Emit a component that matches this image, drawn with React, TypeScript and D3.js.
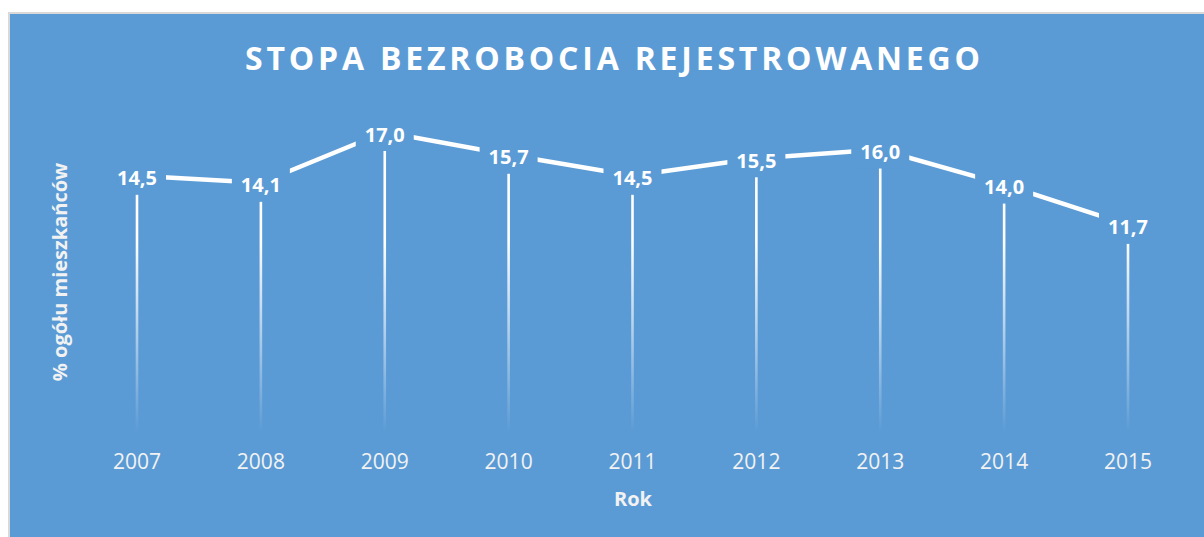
import React from "react";
import * as d3 from "d3";

const years = ["2007", "2008", "2009", "2010", "2011", "2012", "2013", "2014", "2015"];
const values = [14.5, 14.1, 17.0, 15.7, 14.5, 15.5, 16.0, 14.0, 11.7];
const title = "STOPA BEZROBOCIA REJESTROWANEGO";
const xTitle = "Rok";
const yTitle = "% ogółu mieszkańców";

const W = 1204;
const H = 537;
const BLUE = "#5B9BD5";
const FONT = "'Open Sans', 'DejaVu Sans', sans-serif";

export default function App() {
  const x = d3.scalePoint<string>().domain(years).range([137, 1128]);
  const y = d3.scaleLinear().domain([0, 17]).range([430, 132]);
  const fmt = (v: number) => v.toFixed(1).replace(".", ",");
  const line = d3
    .line<number>()
    .x((_, i) => x(years[i]) as number)
    .y((d) => y(d));

  return (
    <svg
      width={W}
      height={H}
      style={{ position: "fixed", left: 0, top: 0, display: "block" }}
    >
      <defs>
        <linearGradient id="dropGrad" gradientUnits="userSpaceOnUse" x1="0" y1="240" x2="0" y2="432">
          <stop offset="0" stopColor="#fff" stopOpacity={1} />
          <stop offset="1" stopColor="#fff" stopOpacity={0} />
        </linearGradient>
      </defs>
      <rect x={0} y={0} width={W} height={H} fill="#fff" />
      <rect x={9} y={13} width={W + 10} height={H + 10} fill={BLUE} stroke="#D9D9D9" strokeWidth={2} />
      <text
        x={612.5}
        y={70}
        textAnchor="middle"
        fill="#fff"
        fontFamily={FONT}
        fontWeight={700}
        fontSize={32}
        textLength={735}
        lengthAdjust="spacing"
      >
        {title}
      </text>

      {/* drop lines */}
      {values.map((v, i) => (
        <line
          key={"d" + i}
          x1={x(years[i])}
          x2={x(years[i])}
          y1={y(v)}
          y2={y(0)}
          stroke="url(#dropGrad)"
          strokeWidth={2.6}
        />
      ))}

      <path d={line(values) || ""} fill="none" stroke="#fff" strokeWidth={4.5} />

      {/* data labels */}
      {values.map((v, i) => {
        const cx = x(years[i]) as number;
        const cy = y(v) + 2;
        const w = 40;
        return (
          <g key={"l" + i}>
            <rect x={cx - w / 2 - 9} y={cy - 17} width={w + 18} height={34} fill={BLUE} />
            <text
              x={cx}
              y={cy + 7.5}
              textAnchor="middle"
              fill="#fff"
              fontFamily={FONT}
              fontWeight={700}
              fontSize={20}
            >
              {fmt(v)}
            </text>
          </g>
        );
      })}

      {/* x tick labels */}
      {years.map((yr) => (
        <text
          key={yr}
          x={x(yr)}
          y={469}
          textAnchor="middle"
          fill="#F2F2F2"
          fontFamily={FONT}
          fontSize={21}
        >
          {yr}
        </text>
      ))}

      <text
        x={633}
        y={506}
        textAnchor="middle"
        fill="#F2F2F2"
        fontFamily={FONT}
        fontWeight={700}
        fontSize={20}
      >
        {xTitle}
      </text>
      <text
        transform="translate(67,272) rotate(-90)"
        textAnchor="middle"
        fill="#F2F2F2"
        fontFamily={FONT}
        fontWeight={700}
        fontSize={20}
      >
        {yTitle}
      </text>
    </svg>
  );
}
